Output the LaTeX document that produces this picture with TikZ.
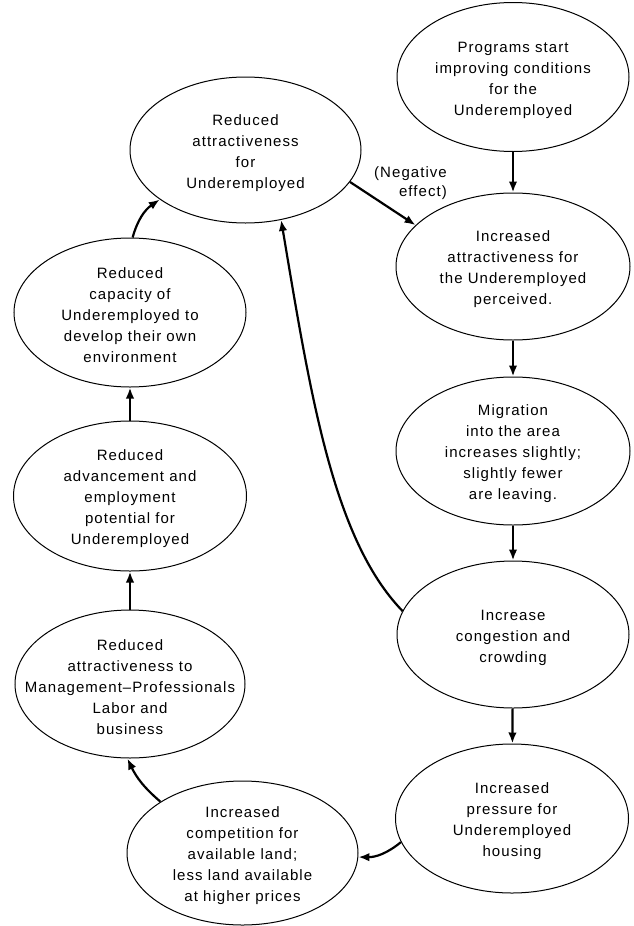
\documentclass[tikz,border=0pt]{standalone}
\usepackage{fontspec}
\setmainfont{Liberation Sans}[LetterSpace=7]
\usetikzlibrary{shapes.geometric,arrows.meta}
\begin{document}
\begin{tikzpicture}[x=1pt,y=-1pt,
  bubble/.style={ellipse,draw,line width=1pt,inner sep=0pt},
  caption/.style={align=center,font=\fontsize{15}{21}\selectfont,inner sep=0pt,yshift=-3pt},
  flow/.style={line width=2.2pt,-{Latex[length=11pt,width=8.5pt]}},
]
\useasboundingbox (0,0) rectangle (633,926);

% right column
\node[bubble,minimum width=232pt,minimum height=149pt] (p) at (513,77) {};
\node[bubble,minimum width=234pt,minimum height=147pt] (b) at (513,266.5) {};
\node[bubble,minimum width=234pt,minimum height=148pt] (c) at (513,451) {};
\node[bubble,minimum width=232pt,minimum height=147pt] (d) at (513,634.5) {};
\node[bubble,minimum width=233pt,minimum height=149pt] (e) at (512,818.5) {};
% bottom and left column
\node[bubble,minimum width=231pt,minimum height=144pt] (f) at (242.5,853) {};
\node[bubble,minimum width=230pt,minimum height=148pt] (g) at (130,684) {};
\node[bubble,minimum width=233pt,minimum height=150pt] (h) at (130,496) {};
\node[bubble,minimum width=232pt,minimum height=149pt] (i) at (130,312.5) {};
\node[bubble,minimum width=231pt,minimum height=146pt] (a) at (245.5,150) {};

% texts
\node[caption] (pt) at (p) {Programs start\\improving conditions\\for the\\Underemployed};
\node[caption] (bt) at (b) {Increased\\attractiveness for\\the Underemployed\\perceived.};
\node[caption] (ct) at (c) {Migration\\into the area\\increases slightly;\\slightly fewer\\are leaving.};
\node[caption] (dt) at (d) {Increase\\congestion and\\crowding};
\node[caption] (et) at (e) {Increased\\pressure for\\Underemployed\\housing};
\node[caption] (ft) at (f) {Increased\\competition for\\available land;\\less land available\\at higher prices};
\node[caption] (gt) at (g) {Reduced\\attractiveness to\\Management–Professionals\\Labor and\\business};
\node[caption] (ht) at (h) {Reduced\\advancement and\\employment\\potential for\\Underemployed};
\node[caption] (it) at (i) {Reduced\\capacity of\\Underemployed to\\develop their own\\environment};
\node[caption] (at) at (a) {Reduced\\attractiveness\\for\\Underemployed};

% connectors
\draw[flow] (p) -- (b);
\draw[flow] (b) -- (c);
\draw[flow] (c) -- (d);
\draw[flow] (d) -- (e);
\draw[flow] (e.192.5) to[bend left=20] (f.-2);
\draw[flow] (f.148) to[bend left=12] (g.268);
\draw[flow] (g) -- (h);
\draw[flow] (h) -- (i);
\draw[flow] (i.88) to[bend left=20] (a.210);
\draw[flow] (a.-17) -- (b.157);
\draw[flow] (d.168) .. controls +(134:99pt) and +(-80.5:182pt) .. (a.297);

\node[align=right,anchor=east,inner sep=0pt,font=\fontsize{15}{19}\selectfont] (neg) at (447,183) {(Negative\\effect)};
\end{tikzpicture}
\end{document}
